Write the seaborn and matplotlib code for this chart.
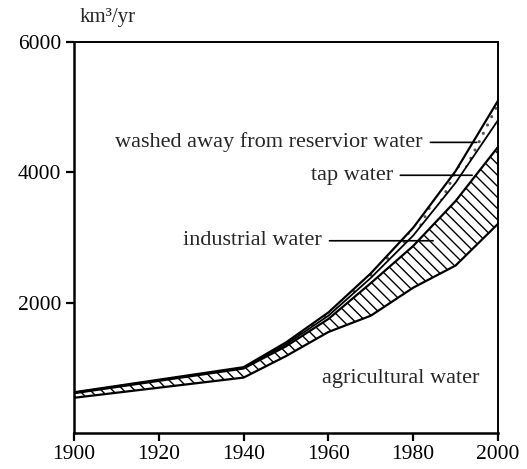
import matplotlib
matplotlib.use("Agg")
import matplotlib.pyplot as plt
import seaborn as sns
import pandas as pd
import numpy as np

years = [1900, 1940, 1950, 1960, 1970, 1980, 1990, 2000]
agricultural = [540, 850, 1180, 1550, 1800, 2230, 2570, 3210]
industrial = [610, 990, 1330, 1750, 2300, 2870, 3560, 4390]
tap = [620, 1000, 1360, 1800, 2380, 3030, 3840, 4800]
reservoir = [625, 1010, 1390, 1850, 2450, 3150, 4020, 5100]

xticks = [1900, 1920, 1940, 1960, 1980, 2000]
yticks = [2000, 4000, 6000]

sns.set_theme(style="white")
plt.rcParams['font.family'] = ['Liberation Serif', 'DejaVu Serif']
plt.rcParams['hatch.linewidth'] = 1.0

fig = plt.figure(figsize=(5.27, 4.69), dpi=100)
ax = fig.add_axes([0.1404, 0.0768, 0.8046, 0.8336])

df = pd.DataFrame({"year": years, "agricultural": agricultural, "industrial": industrial,
                   "tap": tap, "reservoir": reservoir})

ax.fill_between(df.year, df.agricultural, df.industrial, facecolor="white",
                edgecolor="black", hatch="\\\\\\", linewidth=0)
ax.fill_between(df.year, df.tap, df.reservoir, facecolor="white",
                edgecolor="#555555", hatch="..", linewidth=0)
for col, lw in [("agricultural", 1.6), ("industrial", 1.6), ("tap", 1.3), ("reservoir", 1.6)]:
    sns.lineplot(data=df, x="year", y=col, ax=ax, color="black", linewidth=lw)

ax.set_xlim(1900, 2000)
ax.set_ylim(0, 6000)
ax.set_xticks(xticks)
ax.set_yticks(yticks)
ax.set_xlabel("")
ax.set_ylabel("")
ax.tick_params(axis="both", direction="out", length=6, width=1.6, labelsize=15.5,
               colors="black", bottom=True, left=True, pad=3)
for s in ax.spines.values():
    s.set_color("black")
ax.spines["left"].set_linewidth(1.8)
ax.spines["bottom"].set_linewidth(1.8)
ax.spines["top"].set_linewidth(1.4)
ax.spines["right"].set_linewidth(1.4)

fig.text(0.150, 0.962, "km³/yr", fontsize=15, ha="left", va="center")

tfs = 16
ax.annotate("washed away from reservior water", xy=(1995, 4460), xytext=(1982.3, 4460),
            fontsize=tfs, ha="right", va="center",
            arrowprops=dict(arrowstyle="-", color="black", lw=1.2, shrinkA=3, shrinkB=0))
ax.annotate("tap water", xy=(1993.9, 3955), xytext=(1975.2, 3955),
            fontsize=tfs, ha="right", va="center",
            arrowprops=dict(arrowstyle="-", color="black", lw=1.2, shrinkA=3, shrinkB=0))
ax.annotate("industrial water", xy=(1984.7, 2950), xytext=(1958.5, 2950),
            fontsize=tfs, ha="right", va="center",
            arrowprops=dict(arrowstyle="-", color="black", lw=1.2, shrinkA=3, shrinkB=0))
ax.text(1977.1, 830, "agricultural water", fontsize=tfs, ha="center", va="center")

fig.savefig("out.png", dpi=100)
